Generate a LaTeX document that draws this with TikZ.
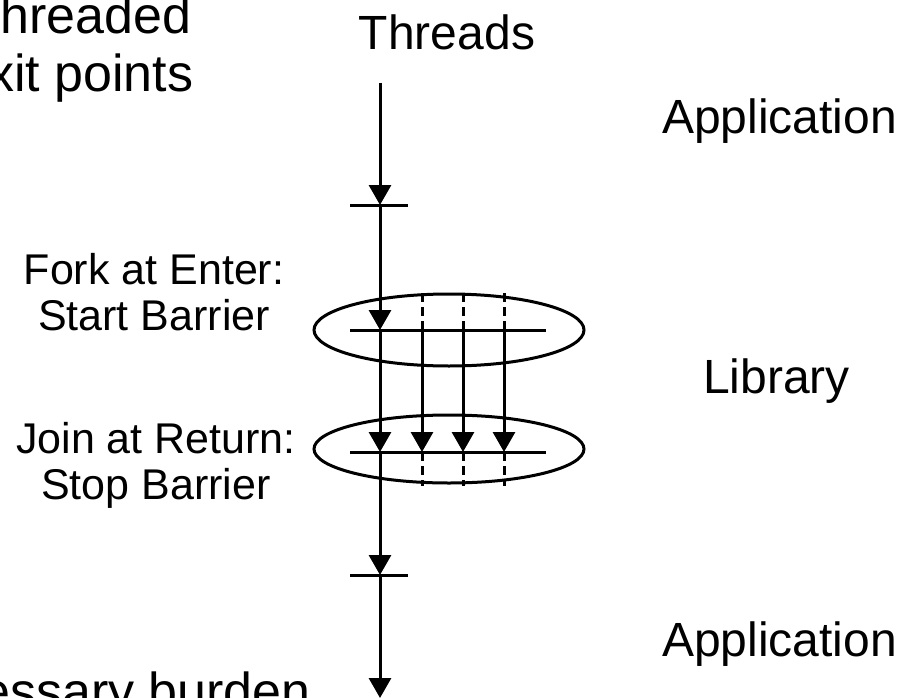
\documentclass[tikz,border=0pt]{standalone}
\usepackage{fontspec}
\setmainfont{Liberation Sans}
\usetikzlibrary{arrows.meta,positioning,shapes.geometric}
\tikzstyle{thr}=[line width=3pt, -{Triangle[length=20pt,width=22pt]}]
\tikzstyle{bar}=[line width=3pt]
\tikzstyle{pend}=[line width=3pt, dash pattern=on 9pt off 5pt]
\tikzstyle{barrier}=[draw, ellipse, line width=3pt, minimum width=270pt, minimum height=72pt, inner sep=0pt]
\tikzstyle{lbl}=[font=\fontsize{43}{50}\selectfont, inner sep=0pt, anchor=base]
\tikzstyle{side}=[font=\fontsize{48}{56}\selectfont, inner sep=0pt, anchor=base west]
\tikzstyle{cut}=[font=\fontsize{52}{60}\selectfont, inner sep=0pt, anchor=base west]

\begin{document}
\begin{tikzpicture}[x=1pt,y=-1pt]
\useasboundingbox (0,0) rectangle (907,698);

% text cut off by the page edge
\node[cut] (multi) at (0,34) {hreaded};
\node[cut] (exitpt) at (-12,92) {xit points};
\node[cut] (burden) at (-19,709) {essary burden};

\node[side, anchor=base] (threads) at (447,50) {Threads};
\node[side] (app1) at (662,134) {Application};
\node[side] (lib) at (703,393) {Library};
\node[side] (app2) at (662,656) {Application};

\node[lbl] (fork) at (154,284) {Fork at Enter:};
\node[lbl] (startlbl) at ([yshift=-46pt]fork.base) {Start Barrier};
\node[lbl] (join) at (156,453) {Join at Return:};
\node[lbl] (stoplbl) at ([yshift=-46pt]join.base) {Stop Barrier};

% barriers
\node[barrier] (start) at (449,330) {};
\node[barrier, minimum height=68pt] (stop) at (449,449) {};
\draw[bar] ([xshift=-99pt]start.center) -- ([xshift=97pt]start.center);
\draw[bar] ([xshift=-99pt,yshift=-3pt]stop.center) -- ([xshift=97pt,yshift=-3pt]stop.center);

% main thread
\coordinate (top) at (380,83);
\coordinate (enter) at (380,205);
\coordinate (fork1) at (380,330);
\coordinate (join1) at (380,452);
\coordinate (ret) at (380,575);
\coordinate (bot) at (380,698);
\draw[thr] (top) -- (enter);
\draw[bar] ([xshift=-30pt]enter) -- ([xshift=28pt]enter);
\draw[thr] (enter) -- (fork1);
\draw[thr] (fork1) -- (join1);
\draw[thr] (join1) -- (ret);
\draw[bar] ([xshift=-30pt]ret) -- ([xshift=28pt]ret);
\draw[thr] (ret) -- (bot);

% forked threads
\foreach \x/\n in {422/2,463/3,504/4}{
  \coordinate (wait\n) at (\x,293);
  \coordinate (fork\n) at (\x,330);
  \coordinate (join\n) at (\x,452);
  \coordinate (idle\n) at (\x,486);
  \draw[pend] (wait\n) -- (fork\n);
  \draw[thr] (fork\n) -- (join\n);
  \draw[pend] (join\n) -- (idle\n);
}
\end{tikzpicture}
\end{document}
